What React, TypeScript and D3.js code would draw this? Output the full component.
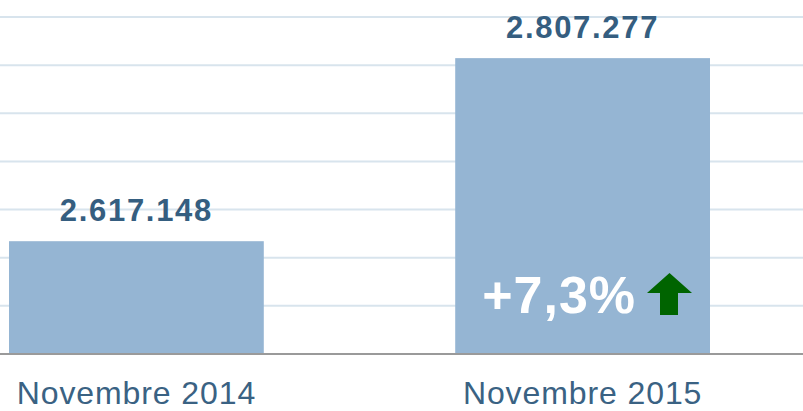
import React from "react";
import * as d3 from "d3";

const categories = ["Novembre 2014", "Novembre 2015"];
const values = [2617148, 2807277];
const yDomain = [2500000, 2850000];
const gridTicks = [2550000, 2600000, 2650000, 2700000, 2750000, 2800000, 2850000];

const W = 803;
const H = 411;

const fmtThousands = (v: number) =>
  d3.format(",")(v).replace(/,/g, ".");

export default function App() {
  const x = d3
    .scaleBand<string>()
    .domain(categories)
    .range([9, 710])
    .paddingInner(0.429)
    .paddingOuter(0);
  const y = d3.scaleLinear().domain(yDomain).range([354, 17]);
  const y0 = y(yDomain[0]);

  const change = values[1] / values[0] - 1;
  const changeLabel =
    (change >= 0 ? "+" : "") + d3.format(".1f")(change * 100).replace(".", ",") + "%";

  const bx2 = x(categories[1])!;
  const bw = x.bandwidth();
  const pctX = bx2 + 27;
  const pctY = y0 - 41;
  // arrow geometry
  const ax = bx2 + bw - 63; // left of arrow head
  const aTop = pctY - 40;
  const aw = 45;
  const headH = 20;
  const shaftL = ax + 13;
  const shaftR = ax + 31;
  const aBot = pctY + 2;
  const arrowPath = `M${ax},${aTop + headH} L${ax + aw / 2},${aTop} L${ax + aw},${aTop + headH} L${shaftR},${aTop + headH} L${shaftR},${aBot} L${shaftL},${aBot} L${shaftL},${aTop + headH} Z`;

  return (
    <svg
      width={W}
      height={H}
      style={{ position: "absolute", left: 0, top: 0, background: "#fff" }}
    >
      {gridTicks.map((t) => (
        <line
          key={t}
          x1={0}
          x2={W}
          y1={y(t)}
          y2={y(t)}
          stroke="#d8e4ed"
          strokeWidth={2}
        />
      ))}
      {categories.map((c, i) => (
        <rect
          key={c}
          x={x(c)}
          y={y(values[i])}
          width={bw}
          height={y0 - y(values[i])}
          fill="#95b5d3"
        />
      ))}
      <line x1={0} x2={W} y1={y0} y2={y0} stroke="#9a9a9a" strokeWidth={2} />
      {categories.map((c, i) => (
        <text
          key={c + "v"}
          x={x(c)! + bw / 2}
          y={y(values[i]) - 20}
          textAnchor="middle"
          fill="#355e80"
          fontFamily="'Liberation Sans', Arial, sans-serif"
          fontWeight="bold"
          fontSize={31}
          letterSpacing={1.7}
        >
          {fmtThousands(values[i])}
        </text>
      ))}
      {categories.map((c) => (
        <text
          key={c + "l"}
          x={x(c)! + bw / 2}
          y={404}
          textAnchor="middle"
          fill="#3a6283"
          fontFamily="'Liberation Sans', Arial, sans-serif"
          fontSize={32}
          letterSpacing={0.9}
        >
          {c}
        </text>
      ))}
      <text
        x={pctX}
        y={pctY}
        fill="#ffffff"
        fontFamily="'Liberation Sans', Arial, sans-serif"
        fontWeight="bold"
        fontSize={52}
        letterSpacing={1}
      >
        {changeLabel}
      </text>
      <path d={arrowPath} fill="#006400" />
    </svg>
  );
}
